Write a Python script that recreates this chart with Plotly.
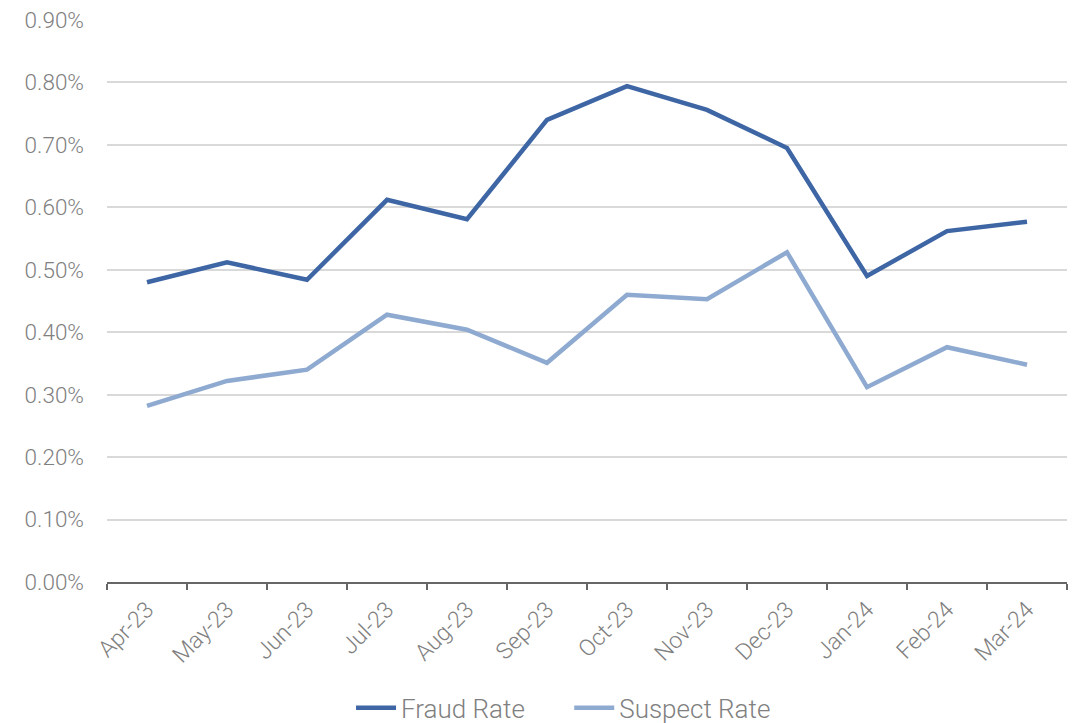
import plotly.graph_objects as go

months = ["Apr-23", "May-23", "Jun-23", "Jul-23", "Aug-23", "Sep-23",
          "Oct-23", "Nov-23", "Dec-23", "Jan-24", "Feb-24", "Mar-24"]
fraud_rate = [0.480, 0.512, 0.484, 0.612, 0.581, 0.740,
              0.794, 0.756, 0.695, 0.490, 0.562, 0.577]
suspect_rate = [0.282, 0.322, 0.340, 0.428, 0.404, 0.351,
                0.460, 0.453, 0.528, 0.312, 0.376, 0.348]
y_ticks = [0.0, 0.1, 0.2, 0.3, 0.4, 0.5, 0.6, 0.7, 0.8, 0.9]
y_tick_text = [f"{v:.2f}%" for v in y_ticks]

fig = go.Figure()
fig.add_trace(go.Scatter(x=months, y=fraud_rate, mode="lines", name="Fraud Rate",
                         line=dict(color="#3e66a5", width=4.5), legend="legend",
                         showlegend=True))
fig.add_trace(go.Scatter(x=months, y=suspect_rate, mode="lines", name="Suspect Rate",
                         line=dict(color="#8eaad0", width=4.5), legend="legend2",
                         showlegend=True))

legend_style = dict(orientation="h", y=-0.224, yanchor="middle", xanchor="left",
                    font=dict(size=26, color="#808080", weight=300), itemwidth=40,
                    bgcolor="rgba(0,0,0,0)")

fig.update_layout(
    width=1079, height=723,
    showlegend=True,
    margin=dict(l=107, r=12, t=20, b=141, autoexpand=False),
    plot_bgcolor="white", paper_bgcolor="white",
    font=dict(family="Roboto", color="#808080", size=21, weight=300),
    legend=dict(x=0.2542, **legend_style),
    legend2=dict(x=0.4815, **legend_style),
    xaxis=dict(type="category", showgrid=False, showline=True, linecolor="#666666",
               linewidth=2, ticks="outside", tickson="boundaries", ticklen=6,
               tickcolor="#666666", tickwidth=2, tickangle=-45,
               tickfont=dict(size=23, weight=300), range=[-0.5, 11.5], automargin=False,
               ticklabelstandoff=3),
    yaxis=dict(range=[0, 0.9], tickvals=y_ticks, ticktext=y_tick_text,
               showgrid=True, gridcolor="#d9d9d9", gridwidth=1.5, zeroline=False,
               showline=False, ticks="", tickfont=dict(size=22.5, weight=300),
               ticklabelstandoff=22, automargin=False),
)

fig.write_html("out.html", config={"displayModeBar": False},
               post_script="document.body.style.margin='0';document.body.style.overflow='hidden';")
